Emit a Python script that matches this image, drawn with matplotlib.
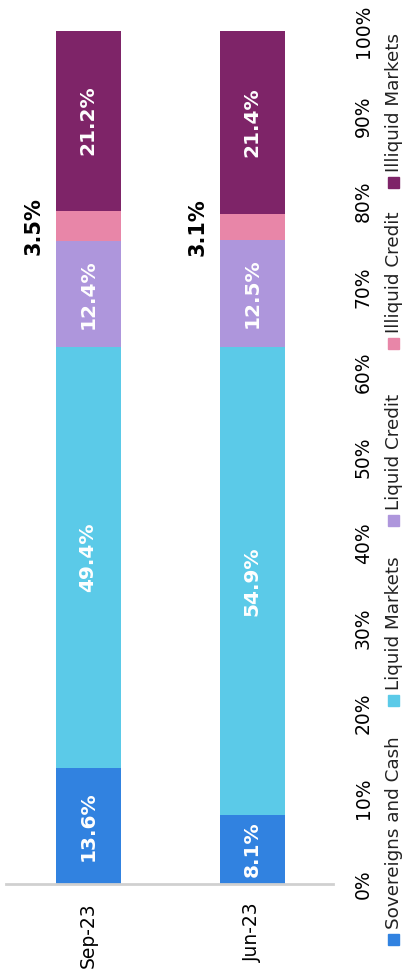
import matplotlib
matplotlib.use("Agg")
import matplotlib.pyplot as plt
from matplotlib.patches import Rectangle
import numpy as np

periods = ["Sep-23", "Jun-23"]
series = ["Sovereigns and Cash", "Liquid Markets", "Liquid Credit",
          "Illiquid Credit", "Illiquid Markets"]
sovereigns = [13.6, 8.1]
liquid_markets = [49.4, 54.9]
liquid_credit = [12.4, 12.5]
illiquid_credit = [3.5, 3.1]
illiquid_markets = [21.2, 21.4]
colors = ["#3182E0", "#5BCAE8", "#AE96DC", "#E886A8", "#7E2468"]
pct_ticks = np.arange(0, 101, 10)

values = [sovereigns, liquid_markets, liquid_credit, illiquid_credit, illiquid_markets]

W, H = 405, 980
fig = plt.figure(figsize=(W / 100, H / 100), dpi=100)
ax = fig.add_axes([6 / W, (H - 884) / H, (333 - 6) / W, (884 - 31) / H])

x = np.arange(len(periods))
bw = 65 / 164
bottom = np.zeros(len(periods))
for name, vals, c in zip(series, values, colors):
    vals = np.array(vals)
    ax.bar(x, vals, bw, bottom=bottom, color=c, label=name, linewidth=0)
    for xi, v, b in zip(x, vals, bottom):
        if v >= 5:
            ax.text(xi, b + v / 2, f"{v:.1f}%", rotation=90, ha="center", va="center",
                    color="white", fontweight="bold", fontsize=14.5)
        else:
            ax.text(xi - 0.333, b + v / 2, f"{v:.1f}%", rotation=90, ha="center",
                    va="center", color="black", fontweight="bold", fontsize=15)
    bottom += vals

ax.set_xlim(-0.5, -0.5 + 327 / 164)
ax.set_ylim(0, 100)
for s in ["top", "left", "right"]:
    ax.spines[s].set_visible(False)
ax.spines["bottom"].set_color("#D0D0D0")
ax.spines["bottom"].set_linewidth(2)

ax.set_xticks(x)
ax.set_xticklabels(periods, rotation=90, va="top", ha="center", fontsize=13.5)
ax.tick_params(axis="x", length=0, pad=13)
ax.yaxis.tick_right()
ax.set_yticks(pct_ticks)
ax.set_yticklabels([f"{t}%" for t in pct_ticks], rotation=90, va="center", fontsize=13.5)
ax.tick_params(axis="y", length=0, pad=15)

# legend drawn vertically along the right edge (square centre y in pixels)
legend_y = [939, 700, 520, 343, 182]
for name, c, ly in zip(series, colors, legend_y):
    fig.patches.append(Rectangle((388 / W, (H - ly - 6) / H), 11 / W, 11 / H,
                                 transform=fig.transFigure, color=c))
    fig.text(394 / W, (H - ly + 10) / H, name, rotation=90, ha="center", va="bottom",
             fontsize=13.2, color="#222222")

fig.savefig("out.png", dpi=100)
